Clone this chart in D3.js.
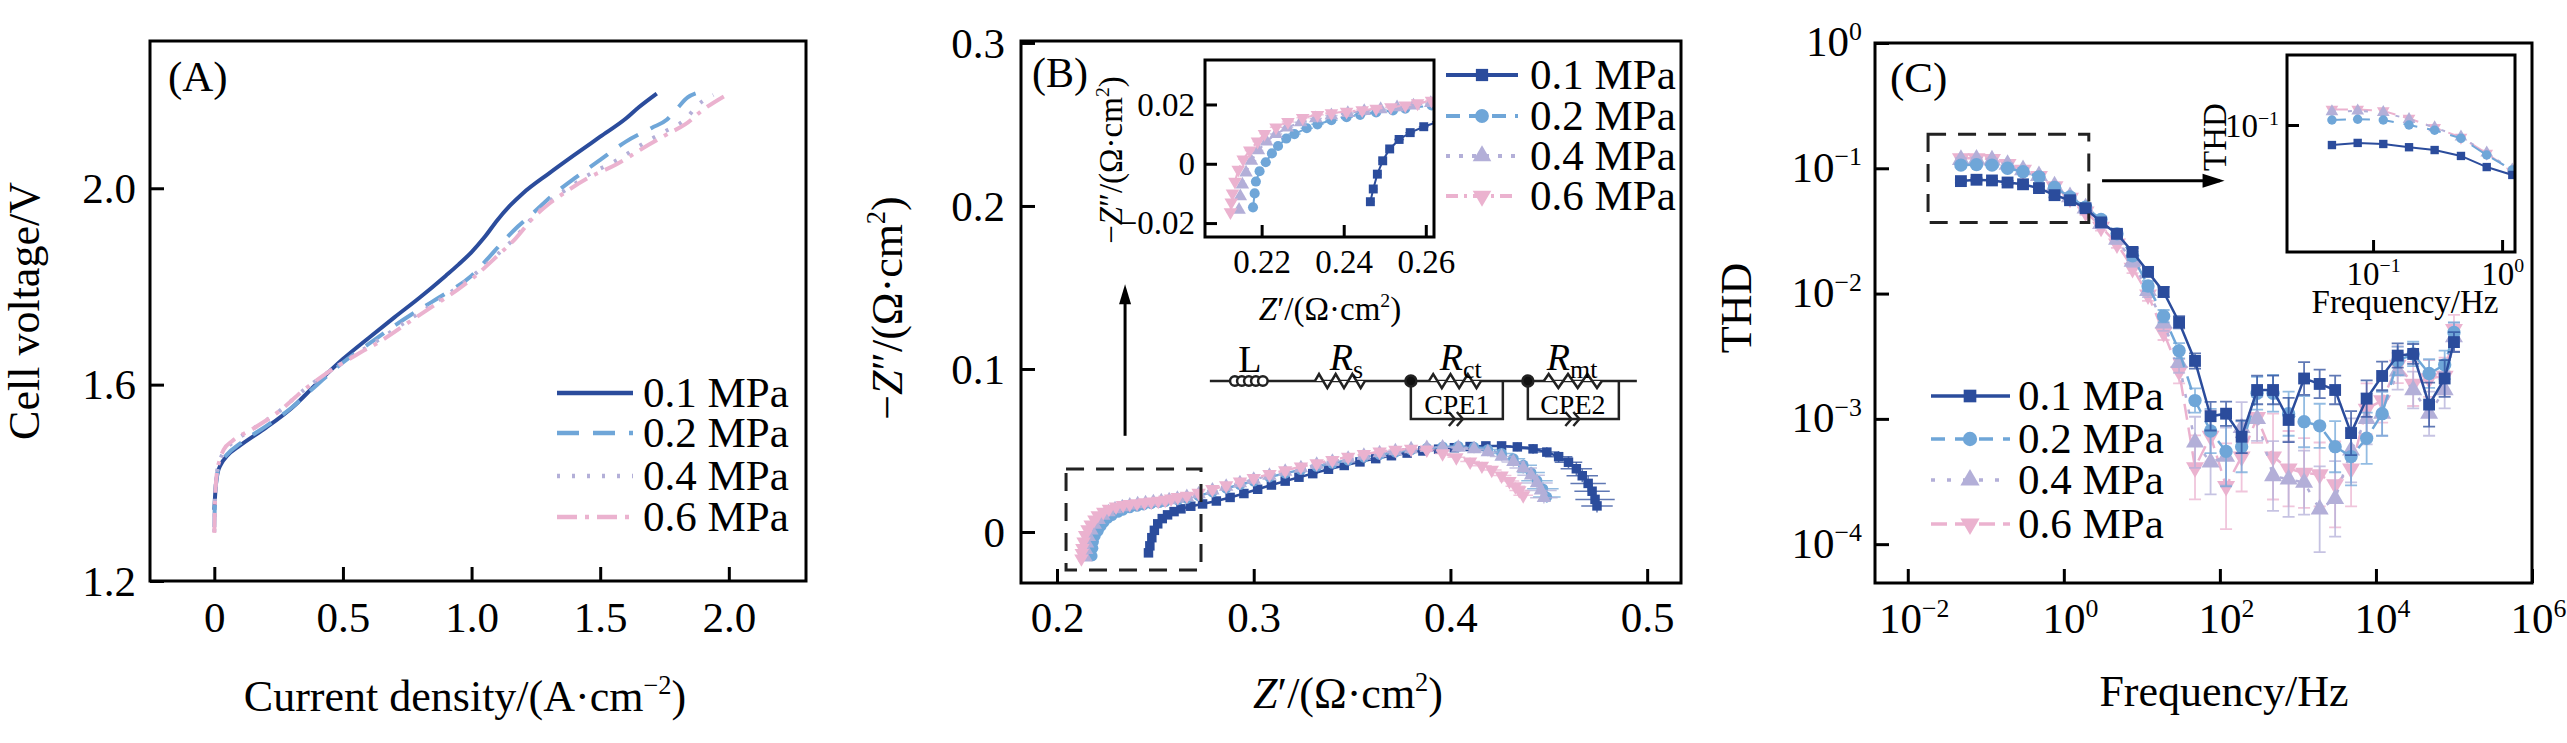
<!DOCTYPE html>
<html>
<head>
<meta charset="utf-8">
<script src="https://cdn.jsdelivr.net/npm/d3@7"></script>
<style>
  body { margin: 0; background: #fff; }
  svg { display: block; }
</style>
</head>
<body>
<svg id="chart" width="2567" height="743"></svg>
<script>
const FONT = '"Liberation Serif","Times New Roman",serif'

// ---------------- data ----------------
const pressures = ["0.1 MPa", "0.2 MPa", "0.4 MPa", "0.6 MPa"]
const colors = ["#2b4c9c", "#6fa6d8", "#b3afd8", "#ebb2cf"]

// (A) polarization curves: [current density A/cm2, cell voltage V]
const polA01 = [[0,1.345],[0.002,1.365],[0.006,1.395],[0.012,1.418],[0.025,1.437],[0.05,1.455],[0.1,1.476],[0.2,1.512],[0.3,1.552],[0.4,1.603],[0.5,1.652],[0.6,1.695],[0.7,1.737],[0.8,1.778],[0.9,1.822],[0.95,1.845],[1.0,1.87],[1.05,1.9],[1.1,1.935],[1.15,1.965],[1.2,1.99],[1.3,2.03],[1.4,2.068],[1.5,2.105],[1.6,2.142],[1.65,2.165],[1.72,2.193]]
const polA02 = [[0,1.31],[0.002,1.36],[0.006,1.395],[0.012,1.42],[0.025,1.44],[0.05,1.458],[0.1,1.48],[0.2,1.515],[0.3,1.553],[0.4,1.6],[0.5,1.645],[0.6,1.683],[0.7,1.72],[0.8,1.754],[0.9,1.786],[1.0,1.822],[1.06,1.855],[1.12,1.89],[1.18,1.922],[1.24,1.95],[1.32,1.988],[1.4,2.02],[1.5,2.058],[1.6,2.095],[1.7,2.123],[1.76,2.14],[1.8,2.163],[1.84,2.185],[1.88,2.195]]
const polA04 = [[0,1.30],[0.002,1.352],[0.005,1.39],[0.01,1.42],[0.02,1.443],[0.04,1.465],[0.08,1.485],[0.15,1.51],[0.25,1.545],[0.35,1.59],[0.45,1.628],[0.55,1.662],[0.65,1.695],[0.75,1.73],[0.85,1.764],[0.95,1.8],[1.0,1.82],[1.1,1.865],[1.17,1.9],[1.24,1.942],[1.3,1.972],[1.37,1.998],[1.45,2.026],[1.56,2.056],[1.69,2.098],[1.76,2.118],[1.83,2.14],[1.88,2.17],[1.94,2.19]]
const polA06 = [[0,1.298],[0.002,1.35],[0.005,1.39],[0.01,1.42],[0.02,1.445],[0.036,1.467],[0.07,1.485],[0.15,1.51],[0.25,1.545],[0.35,1.59],[0.45,1.628],[0.55,1.66],[0.65,1.69],[0.75,1.725],[0.85,1.76],[0.95,1.795],[1.0,1.815],[1.1,1.862],[1.17,1.897],[1.24,1.94],[1.3,1.968],[1.37,1.994],[1.45,2.02],[1.56,2.048],[1.69,2.089],[1.76,2.11],[1.83,2.13],[1.9,2.16],[1.99,2.19]]

// (B) Nyquist plots: [Z', -Z'', error]
const nyq01 = [[0.2465,-0.0128,0.001],[0.2472,-0.0085,0.001],[0.2482,-0.0035,0.001],[0.2495,0.0010,0.001],[0.2512,0.0050,0.001],[0.2535,0.0082,0.0012],[0.2562,0.0105,0.0012],[0.2595,0.0125,0.0012],[0.2630,0.0142,0.0015],[0.268,0.0158,0.0015],[0.274,0.0172,0.0015],[0.281,0.0190,0.0015],[0.288,0.0212,0.002],[0.295,0.0236,0.002],[0.302,0.0262,0.002],[0.309,0.0288,0.002],[0.316,0.0312,0.002],[0.323,0.0336,0.002],[0.330,0.0358,0.0025],[0.338,0.0385,0.0025],[0.346,0.0408,0.0025],[0.354,0.0430,0.003],[0.362,0.0450,0.003],[0.370,0.0468,0.003],[0.378,0.0484,0.003],[0.386,0.0497,0.0035],[0.394,0.0508,0.0035],[0.402,0.0517,0.004],[0.410,0.0524,0.004],[0.418,0.0528,0.0045],[0.426,0.0528,0.005],[0.434,0.0522,0.0055],[0.442,0.0510,0.006],[0.449,0.0490,0.006],[0.455,0.0462,0.007],[0.460,0.0428,0.007],[0.464,0.0388,0.008],[0.467,0.0345,0.008],[0.470,0.0298,0.009],[0.472,0.0250,0.009],[0.4735,0.0200,0.01],[0.4745,0.0160,0.008]]
const nyq02 = [[0.2179,-0.0147,0.001],[0.2183,-0.0100,0.001],[0.2186,-0.0060,0.001],[0.2195,-0.0025,0.001],[0.2210,0.0005,0.0012],[0.2225,0.0035,0.0012],[0.2240,0.0060,0.0012],[0.2260,0.0085,0.0012],[0.2280,0.0100,0.0015],[0.2310,0.0120,0.0015],[0.2336,0.0133,0.0015],[0.2370,0.0147,0.0015],[0.2407,0.0157,0.0015],[0.2440,0.0165,0.0015],[0.2479,0.0173,0.0015],[0.2520,0.0180,0.0015],[0.2550,0.0186,0.0015],[0.2614,0.0197,0.0015],[0.266,0.0205,0.0015],[0.272,0.0222,0.0015],[0.279,0.0245,0.002],[0.286,0.0268,0.002],[0.293,0.0290,0.002],[0.300,0.0312,0.002],[0.308,0.0337,0.002],[0.316,0.0360,0.0025],[0.324,0.0382,0.0025],[0.332,0.0402,0.0025],[0.340,0.0421,0.003],[0.348,0.0440,0.003],[0.356,0.0458,0.003],[0.364,0.0475,0.003],[0.372,0.0490,0.0035],[0.380,0.0503,0.0035],[0.388,0.0514,0.004],[0.396,0.0522,0.004],[0.404,0.0525,0.0045],[0.412,0.0520,0.005],[0.419,0.0506,0.005],[0.426,0.0482,0.006],[0.432,0.0450,0.006],[0.437,0.0410,0.007],[0.441,0.0365,0.007],[0.444,0.0315,0.008],[0.447,0.0265,0.008],[0.449,0.0215,0.007]]
const nyq04 = [[0.2145,-0.0155,0.001],[0.2148,-0.0110,0.001],[0.2153,-0.0070,0.001],[0.2162,-0.0030,0.001],[0.2175,0.0010,0.0012],[0.2192,0.0045,0.0012],[0.2212,0.0075,0.0012],[0.2235,0.0100,0.0015],[0.2262,0.0122,0.0015],[0.2295,0.0140,0.0015],[0.2332,0.0153,0.0015],[0.2370,0.0163,0.0015],[0.2410,0.0171,0.0015],[0.2450,0.0178,0.0015],[0.2490,0.0184,0.0015],[0.2530,0.0190,0.0015],[0.2570,0.0196,0.0015],[0.2612,0.0205,0.0015],[0.266,0.0215,0.0015],[0.272,0.0233,0.0015],[0.279,0.0255,0.002],[0.286,0.0278,0.002],[0.293,0.0300,0.002],[0.300,0.0322,0.002],[0.308,0.0346,0.002],[0.316,0.0370,0.0025],[0.324,0.0392,0.0025],[0.332,0.0413,0.0025],[0.340,0.0432,0.003],[0.348,0.0451,0.003],[0.356,0.0468,0.003],[0.364,0.0484,0.003],[0.372,0.0497,0.0035],[0.380,0.0508,0.0035],[0.388,0.0516,0.004],[0.396,0.0520,0.004],[0.404,0.0518,0.0045],[0.412,0.0508,0.005],[0.419,0.0490,0.005],[0.426,0.0463,0.006],[0.432,0.0430,0.006],[0.437,0.0392,0.007],[0.441,0.0348,0.007],[0.444,0.0300,0.008],[0.446,0.0255,0.008],[0.4475,0.0210,0.007]]
const nyq06 = [[0.2124,-0.0163,0.001],[0.2126,-0.0130,0.001],[0.2129,-0.0100,0.001],[0.2135,-0.0060,0.001],[0.2143,-0.0020,0.001],[0.2155,0.0015,0.0012],[0.2171,0.0045,0.0012],[0.2190,0.0075,0.0012],[0.2207,0.0101,0.0012],[0.2235,0.0123,0.0015],[0.2264,0.0141,0.0015],[0.2300,0.0155,0.0015],[0.2336,0.0165,0.0015],[0.2370,0.0171,0.0015],[0.2407,0.0176,0.0015],[0.2445,0.0181,0.0015],[0.2479,0.0186,0.0015],[0.2515,0.0191,0.0015],[0.2550,0.0197,0.0015],[0.2580,0.0204,0.0015],[0.2614,0.0213,0.0015],[0.266,0.0222,0.0015],[0.272,0.0240,0.0015],[0.279,0.0262,0.002],[0.286,0.0285,0.002],[0.293,0.0308,0.002],[0.300,0.0330,0.002],[0.308,0.0354,0.002],[0.316,0.0378,0.0025],[0.324,0.0400,0.0025],[0.332,0.0421,0.0025],[0.340,0.0441,0.003],[0.348,0.0460,0.003],[0.356,0.0477,0.003],[0.364,0.0492,0.003],[0.372,0.0504,0.0035],[0.380,0.0510,0.0035],[0.388,0.0505,0.004],[0.396,0.0482,0.004],[0.403,0.0458,0.0045],[0.410,0.0432,0.005],[0.416,0.0406,0.005],[0.421,0.0380,0.005],[0.426,0.0346,0.005],[0.430,0.0312,0.005],[0.433,0.0280,0.005],[0.435,0.0255,0.005],[0.437,0.0225,0.005]]

// (C) total harmonic distortion vs frequency
const freqC = [0.048,0.076,0.12,0.19,0.3,0.48,0.76,1.2,1.9,3,4.8,7.6,12,19,30,48,76,120,190,300,480,760,1200,1900,3000,4800,7600,12000,19000,30000,48000,76000,100000]
const thd01 = [0.079,0.081,0.080,0.077,0.0745,0.0695,0.061,0.0556,0.048,0.037,0.030,0.0215,0.0149,0.0103,0.0059,0.0029,0.00105,0.0011,0.00072,0.0017,0.0017,0.00098,0.0021,0.0019,0.0017,0.00077,0.00145,0.0022,0.0032,0.0033,0.0013,0.0021,0.0041]
const thd02 = [0.106,0.107,0.106,0.100,0.094,0.0855,0.0703,0.059,0.049,0.039,0.030,0.020,0.0115,0.0066,0.0035,0.0014,0.0008,0.00055,0.0006,0.0016,0.0016,0.0011,0.00095,0.00088,0.0006,0.0005,0.0007,0.0011,0.0029,0.0033,0.0023,0.0027,0.0049]
const thd04 = [0.117,0.118,0.116,0.107,0.097,0.087,0.072,0.059,0.048,0.036,0.027,0.018,0.0105,0.0058,0.0028,0.00065,0.00045,0.0005,0.00085,0.0010,0.00035,0.00033,0.00031,0.00019,0.00023,0.00056,0.001,0.0011,0.0024,0.0017,0.0011,0.0017,0.0045]
const thd06 = [0.120,0.120,0.118,0.108,0.097,0.0865,0.0717,0.058,0.045,0.034,0.025,0.016,0.0098,0.0049,0.0024,0.00041,0.00073,0.00029,0.0005,0.00103,0.0005,0.0004,0.00037,0.00036,0.0003,0.0004,0.0012,0.0014,0.0027,0.0019,0.0021,0.0022,0.0052]
// relative error bar half widths
const errC01 = [0.03,0.03,0.03,0.03,0.03,0.03,0.04,0.04,0.05,0.06,0.06,0.07,0.08,0.1,0.12,0.15,0.3,0.25,0.35,0.3,0.3,0.5,0.35,0.3,0.3,0.5,0.4,0.3,0.25,0.2,0.5,0.4,0.2]
const errC02 = [0.03,0.03,0.03,0.03,0.03,0.04,0.04,0.05,0.05,0.06,0.07,0.08,0.1,0.12,0.15,0.25,0.5,0.9,0.6,0.35,0.4,0.5,0.6,0.5,0.6,0.7,0.6,0.5,0.3,0.25,0.3,0.3,0.2]
const errC04 = [0.03,0.03,0.03,0.03,0.04,0.04,0.05,0.05,0.06,0.07,0.08,0.1,0.12,0.15,0.2,0.6,0.8,0.7,0.6,0.5,0.9,1.0,0.8,1.2,1.0,0.8,0.6,0.5,0.4,0.4,0.5,0.4,0.3]
const errC06 = [0.03,0.03,0.03,0.03,0.04,0.04,0.05,0.05,0.06,0.07,0.08,0.1,0.12,0.15,0.25,0.8,0.6,1.2,0.9,0.6,1.2,1.0,0.9,0.8,1.2,1.0,0.6,0.5,0.4,0.5,0.4,0.4,0.3]

// ticks
const ticksAx = [0, 0.5, 1, 1.5, 2], labelsAx = ["0", "0.5", "1.0", "1.5", "2.0"]
const ticksAy = [1.2, 1.6, 2.0], labelsAy = ["1.2", "1.6", "2.0"]
const ticksBx = [0.2, 0.3, 0.4, 0.5], labelsBx = ["0.2", "0.3", "0.4", "0.5"]
const ticksBy = [0, 0.1, 0.2, 0.3], labelsBy = ["0", "0.1", "0.2", "0.3"]
const ticksBix = [0.22, 0.24, 0.26], labelsBix = ["0.22", "0.24", "0.26"]
const ticksBiy = [-0.02, 0, 0.02], labelsBiy = ["\u22120.02", "0", "0.02"]
const ticksCx = [1e-2, 1, 1e2, 1e4, 1e6]
const ticksCy = [1e-4, 1e-3, 1e-2, 1e-1, 1]
const ticksCix = [0.1, 1]
const ticksCiy = [0.1]

// ---------------- helpers ----------------
const svg = d3.select("#chart").attr("font-family", FONT)
svg.append("rect").attr("width", 2567).attr("height", 743).attr("fill", "#fff")

const markerTypes = [d3.symbolSquare, d3.symbolCircle, d3.symbolTriangle, d3.symbolTriangle]
const markerRot = [0, 0, 0, 180]

function frame(g, x, y, sw) {
    const [x0, x1] = x.range(), [yb, yt] = y.range()
    g.append("rect").attr("x", x0).attr("y", yt).attr("width", x1 - x0).attr("height", yb - yt)
     .attr("fill", "none").attr("stroke", "#000").attr("stroke-width", sw)
}

function xAxis(g, x, y, vals, labels, o) {
    const ax = g.append("g").attr("transform", `translate(0,${y.range()[0]})`)
      .call(d3.axisBottom(x).tickValues(vals).tickSize(-o.tick).tickFormat((d, i) => labels ? labels[i] : ""))
    ax.attr("font-family", FONT).attr("font-size", o.fs)
    ax.select(".domain").remove()
    ax.selectAll(".tick line").attr("stroke", "#000").attr("stroke-width", o.sw)
    ax.selectAll(".tick text").attr("fill", "#000").attr("y", o.base).attr("dy", null).attr("dx", o.dx || 0)
    if (!labels) powLabels(ax, o.fs)
}

function yAxis(g, x, y, vals, labels, o) {
    const ax = g.append("g").attr("transform", `translate(${x.range()[0]},0)`)
      .call(d3.axisLeft(y).tickValues(vals).tickSize(-o.tick).tickFormat((d, i) => labels ? labels[i] : ""))
    ax.attr("font-family", FONT).attr("font-size", o.fs)
    ax.select(".domain").remove()
    ax.selectAll(".tick line").attr("stroke", "#000").attr("stroke-width", o.sw)
    ax.selectAll(".tick text").attr("fill", "#000").attr("x", -o.pad).attr("dy", o.dy || "0.33em")
    if (!labels) powLabels(ax, o.fs)
}

// "10" with a superscript exponent
function powLabels(ax, fs) {
    ax.selectAll(".tick text").each(function (d) {
        const t = d3.select(this).text(null)
        const e = Math.round(Math.log10(d))
        t.append("tspan").text("10")
        t.append("tspan").attr("dy", -0.38 * fs).attr("font-size", 0.6 * fs)
         .text(e < 0 ? "\u2212" + (-e) : String(e))
    })
}

// text with italic / superscript / subscript pieces
function richText(g, x, y, parts, fs, rot, anchor) {
    const t = g.append("text").attr("font-size", fs).attr("text-anchor", anchor || "middle").attr("fill", "#000")
      .attr("transform", `translate(${x},${y})` + (rot ? ` rotate(${rot})` : ""))
    let cur = 0
    parts.forEach(([s, st]) => {
        const sp = t.append("tspan").text(s)
        let target = 0
        if (st === "sup") { target = -0.38 * fs; sp.attr("font-size", 0.6 * fs) }
        if (st === "sub") { target = 0.22 * fs; sp.attr("font-size", 0.68 * fs) }
        if (st === "i") sp.attr("font-style", "italic")
        if (target !== cur) sp.attr("dy", target - cur)
        cur = target
    })
    return t
}

function clipTo(id, x, y) {
    const [x0, x1] = x.range(), [yb, yt] = y.range()
    svg.append("clipPath").attr("id", id).append("rect")
       .attr("x", x0).attr("y", yt).attr("width", x1 - x0).attr("height", yb - yt)
}

function markers(g, pts, x, y, i, size) {
    g.selectAll(null).data(pts).join("path")
     .attr("d", d3.symbol().type(markerTypes[i]).size(size))
     .attr("transform", d => `translate(${x(d[0])},${y(d[1])}) rotate(${markerRot[i]})`)
     .attr("fill", colors[i])
}

function arrowHead(g, tipX, tipY, dir, len, half) {
    // dir: "up" or "right"
    const pts = dir === "up"
      ? [[tipX, tipY], [tipX - half, tipY + len], [tipX + half, tipY + len]]
      : [[tipX, tipY], [tipX - len, tipY - half], [tipX - len, tipY + half]]
    g.append("path").attr("d", "M" + pts.join("L") + "Z").attr("fill", "#000")
}

const axMain = { tick: 14, sw: 3, fs: 43 }

// ================= (A) =================
const xA = d3.scaleLinear().domain([-0.25, 2.3]).range([150, 806])
const yA = d3.scaleLinear().domain([1.2, 2.3]).range([581, 41])
const gA = svg.append("g")
const seriesA = [polA01, polA02, polA04, polA06]
const dashA = [null, "22,14", "3,12", "20,8,4,8"]
const lineA = d3.line().x(d => xA(d[0])).y(d => yA(d[1])).curve(d3.curveMonotoneX)

seriesA.forEach((s, i) => {
    gA.append("path").datum(s).attr("d", lineA).attr("fill", "none")
      .attr("stroke", colors[i]).attr("stroke-width", 4).attr("stroke-dasharray", dashA[i])
})
frame(gA, xA, yA, 3)
xAxis(gA, xA, yA, ticksAx, labelsAx, { ...axMain, base: 51 })
yAxis(gA, xA, yA, ticksAy, labelsAy, { ...axMain, pad: 14 })
richText(gA, 465, 711, [["Current density/(A\u00b7cm"], ["\u22122", "sup"], [")"]], 44)
richText(gA, 39, 311, [["Cell voltage/V"]], 44, -90)
gA.append("text").attr("x", 168).attr("y", 91).attr("font-size", 43).text("(A)")

const legRowsA = [393, 433, 476, 517]
pressures.forEach((p, i) => {
    gA.append("line").attr("x1", 557).attr("x2", 633).attr("y1", legRowsA[i]).attr("y2", legRowsA[i])
      .attr("stroke", colors[i]).attr("stroke-width", 4.5).attr("stroke-dasharray", dashA[i])
    gA.append("text").attr("x", 643).attr("y", legRowsA[i]).attr("dy", "0.33em").attr("font-size", 43).text(p)
})

// ================= (B) =================
const xB = d3.scaleLinear().domain([0.1817, 0.5172]).range([1021, 1681])
const yB = d3.scaleLinear().domain([-0.0313, 0.3012]).range([583, 41])
const xBi = d3.scaleLinear().domain([0.2062, 0.262]).range([1205, 1434])
const yBi = d3.scaleLinear().domain([-0.0247, 0.035]).range([237, 60])
const gB = svg.append("g")
const seriesB = [nyq01, nyq02, nyq04, nyq06]
const dashB = [null, "14,9", "4,9", "12,6,3,6"]
clipTo("clipB", xB, yB)
clipTo("clipBi", xBi, yBi)

function nyquist(g, x, y, size, sw) {
    seriesB.forEach((s, i) => {
        const gs = g.append("g")
        gs.append("path").datum(s).attr("d", d3.line().x(d => x(d[0])).y(d => y(d[1])))
          .attr("fill", "none").attr("stroke", colors[i]).attr("stroke-width", sw).attr("stroke-dasharray", dashB[i])
        gs.selectAll(null).data(s).join("path")
          .attr("d", d => `M${x(d[0] - d[2])},${y(d[1])}H${x(d[0] + d[2])}M${x(d[0])},${y(d[1] - d[2] / 2)}V${y(d[1] + d[2] / 2)}`)
          .attr("stroke", colors[i]).attr("stroke-width", 1.5).attr("opacity", 0.75)
        markers(gs, s, x, y, i, size)
    })
}
nyquist(gB.append("g").attr("clip-path", "url(#clipB)"), xB, yB, 90, 2.5)
frame(gB, xB, yB, 3)
xAxis(gB, xB, yB, ticksBx, labelsBx, { ...axMain, base: 49 })
yAxis(gB, xB, yB, ticksBy, labelsBy, { ...axMain, pad: 16 })
richText(gB, 1348, 708, [["Z", "i"], ["\u2032/(\u03a9\u00b7cm"], ["2", "sup"], [")"]], 44)
richText(gB, 902, 308, [["\u2212"], ["Z", "i"], ["\u2033/(\u03a9\u00b7cm"], ["2", "sup"], [")"]], 44, -90)
gB.append("text").attr("x", 1032).attr("y", 87).attr("font-size", 42).text("(B)")

// zoom box and arrow
gB.append("rect").attr("x", xB(0.2046)).attr("y", yB(0.0387))
  .attr("width", xB(0.2732) - xB(0.2046)).attr("height", yB(-0.0233) - yB(0.0387))
  .attr("fill", "none").attr("stroke", "#222").attr("stroke-width", 3).attr("stroke-dasharray", "18,12")
gB.append("line").attr("x1", xB(0.2346)).attr("x2", xB(0.2346)).attr("y1", yB(0.059)).attr("y2", yB(0.148))
  .attr("stroke", "#000").attr("stroke-width", 3)
arrowHead(gB, xB(0.2346), yB(0.152), "up", 20, 6)

// inset
gB.append("rect").attr("x", 1205).attr("y", 60).attr("width", 229).attr("height", 177).attr("fill", "#fff")
nyquist(gB.append("g").attr("clip-path", "url(#clipBi)"), xBi, yBi, 80, 2)
frame(gB, xBi, yBi, 3)
xAxis(gB, xBi, yBi, ticksBix, labelsBix, { tick: 12, sw: 3, fs: 33, base: 36 })
yAxis(gB, xBi, yBi, ticksBiy, labelsBiy, { tick: 12, sw: 3, fs: 33, pad: 10 })
richText(gB, 1330, 320, [["Z", "i"], ["\u2032/(\u03a9\u00b7cm"], ["2", "sup"], [")"]], 33)
richText(gB, 1122, 160, [["\u2212"], ["Z", "i"], ["\u2033/(\u03a9\u00b7cm"], ["2", "sup"], [")"]], 33, -90)

// legend
const legRowsB = [75, 116, 156, 196]
pressures.forEach((p, i) => {
    gB.append("line").attr("x1", 1446).attr("x2", 1518).attr("y1", legRowsB[i]).attr("y2", legRowsB[i])
      .attr("stroke", colors[i]).attr("stroke-width", 4).attr("stroke-dasharray", dashB[i])
    gB.append("path").attr("d", d3.symbol().type(markerTypes[i]).size(150))
      .attr("transform", `translate(1482,${legRowsB[i]}) rotate(${markerRot[i]})`).attr("fill", colors[i])
    gB.append("text").attr("x", 1530).attr("y", legRowsB[i]).attr("dy", "0.33em").attr("font-size", 43).text(p)
})

// equivalent circuit
const cx = xB(0.2777), cy = yB(0.0926)
const gc = gB.append("g").attr("transform", `translate(${cx},${cy})`)
  .attr("fill", "none").attr("stroke", "#222").attr("stroke-width", 2.5)
const zig = (a, b) => {
    const n = 6, w = (b - a) / n
    let d = `M${a},0`
    for (let k = 0; k < n; k++) d += `L${a + w * (k + 0.5)},${k % 2 ? 7 : -7}`
    return d + `L${b},0`
}
gc.append("path").attr("d", "M0,0H427")
gc.append("path").attr("d", zig(105, 155)).attr("stroke", "#222").attr("fill", "#fff")
gc.append("path").attr("d", zig(219, 271)).attr("fill", "#fff")
gc.append("path").attr("d", zig(334, 392)).attr("fill", "#fff")
;[25, 32, 39, 46, 53].forEach(ox => gc.append("circle").attr("cx", ox).attr("cy", 0).attr("r", 4.8).attr("fill", "#fff"))
;[[201, 293], [318, 409]].forEach(([a, b]) => {
    gc.append("path").attr("d", `M${a},0V38H${b}V0`)
    const m = (a + b) / 2
    gc.append("path").attr("d", `M${m - 8},31L${m - 2},38L${m - 8},45M${m},31L${m + 6},38L${m},45`)
    gc.append("circle").attr("cx", a).attr("cy", 0).attr("r", 5.5).attr("fill", "#111")
})
const gcl = gB.append("g").attr("transform", `translate(${cx},${cy})`)
richText(gcl, 40, -9, [["L"]], 38)
richText(gcl, 120, -11, [["R", "i"], ["s", "sub"]], 38, 0, "start")
richText(gcl, 230, -11, [["R", "i"], ["ct", "sub"]], 38, 0, "start")
richText(gcl, 337, -11, [["R", "i"], ["mt", "sub"]], 38, 0, "start")
richText(gcl, 247, 33, [["CPE1"]], 28)
richText(gcl, 363, 33, [["CPE2"]], 28)

// ================= (C) =================
const xC = d3.scaleLog().domain([Math.pow(10, -2.42), 1e6]).range([1875, 2532])
const yC = d3.scaleLog().domain([Math.pow(10, -4.31), 1]).range([583, 43])
const xCi = d3.scaleLog().domain([Math.pow(10, -1.667), Math.pow(10, 0.1)]).range([2287, 2515])
const yCi = d3.scaleLog().domain([Math.pow(10, -1.648), Math.pow(10, -0.643)]).range([252, 55])
const gC = svg.append("g")
const thdSeries = [thd01, thd02, thd04, thd06]
const errSeries = [errC01, errC02, errC04, errC06]
const dashC = [null, "14,10", "4,12", "16,8"]
clipTo("clipC", xC, yC)
clipTo("clipCi", xCi, yCi)

function thdPlot(g, x, y, size, sw, bars) {
    ;[3, 2, 1, 0].forEach(i => {
        const pts = freqC.map((f, k) => [f, thdSeries[i][k], errSeries[i][k]])
        const gs = g.append("g")
        gs.append("path").datum(pts).attr("d", d3.line().x(d => x(d[0])).y(d => y(d[1])))
          .attr("fill", "none").attr("stroke", colors[i]).attr("stroke-width", sw).attr("stroke-dasharray", dashC[i])
        if (bars) {
            gs.selectAll(null).data(pts).join("path")
              .attr("d", d => {
                  const px = x(d[0]), hi = y(d[1] * (1 + d[2])), lo = y(d[1] / (1 + d[2]))
                  return `M${px},${hi}V${lo}M${px - 6},${hi}H${px + 6}M${px - 6},${lo}H${px + 6}`
              })
              .attr("fill", "none").attr("stroke", colors[i]).attr("stroke-width", 1.8).attr("opacity", 0.75)
        }
        markers(gs, pts, x, y, i, size)
    })
}
thdPlot(gC.append("g").attr("clip-path", "url(#clipC)"), xC, yC, 140, 2.5, true)
frame(gC, xC, yC, 3)
xAxis(gC, xC, yC, ticksCx, null, { ...axMain, base: 50, dx: 6 })
yAxis(gC, xC, yC, ticksCy, null, { ...axMain, pad: 13, dy: "0.30em" })
richText(gC, 2224, 706, [["Frequency/Hz"]], 44)
richText(gC, 1751, 308, [["THD"]], 44, -90)
gC.append("text").attr("x", 1890).attr("y", 92).attr("font-size", 43).text("(C)")

// zoom box and arrow
gC.append("rect").attr("x", xC(Math.pow(10, -1.74))).attr("y", yC(0.187))
  .attr("width", xC(Math.pow(10, 0.32)) - xC(Math.pow(10, -1.74))).attr("height", yC(0.037) - yC(0.187))
  .attr("fill", "none").attr("stroke", "#222").attr("stroke-width", 3).attr("stroke-dasharray", "18,12")
gC.append("line").attr("x1", xC(Math.pow(10, 0.49))).attr("x2", xC(Math.pow(10, 2.0)))
  .attr("y1", yC(Math.pow(10, -1.1))).attr("y2", yC(Math.pow(10, -1.1))).attr("stroke", "#000").attr("stroke-width", 3)
arrowHead(gC, xC(Math.pow(10, 2.06)), yC(Math.pow(10, -1.1)), "right", 22, 7)

// inset
gC.append("rect").attr("x", 2287).attr("y", 55).attr("width", 228).attr("height", 197).attr("fill", "#fff")
thdPlot(gC.append("g").attr("clip-path", "url(#clipCi)"), xCi, yCi, 70, 2, false)
frame(gC, xCi, yCi, 3)
xAxis(gC, xCi, yCi, ticksCix, null, { tick: 12, sw: 3, fs: 33, base: 33 })
yAxis(gC, xCi, yCi, ticksCiy, null, { tick: 12, sw: 3, fs: 33, pad: 8, dy: "0.36em" })
richText(gC, 2405, 313, [["Frequency/Hz"]], 33)
richText(gC, 2226, 137, [["THD"]], 33, -90)

// legend
const legRowsC = [396, 439, 480, 524]
pressures.forEach((p, i) => {
    gC.append("line").attr("x1", 1931).attr("x2", 2010).attr("y1", legRowsC[i]).attr("y2", legRowsC[i])
      .attr("stroke", colors[i]).attr("stroke-width", 3.5).attr("stroke-dasharray", dashC[i])
    gC.append("path").attr("d", d3.symbol().type(markerTypes[i]).size(160))
      .attr("transform", `translate(1970,${legRowsC[i]}) rotate(${markerRot[i]})`).attr("fill", colors[i])
    gC.append("text").attr("x", 2018).attr("y", legRowsC[i]).attr("dy", "0.33em").attr("font-size", 43).text(p)
})
</script>
</body>
</html>
